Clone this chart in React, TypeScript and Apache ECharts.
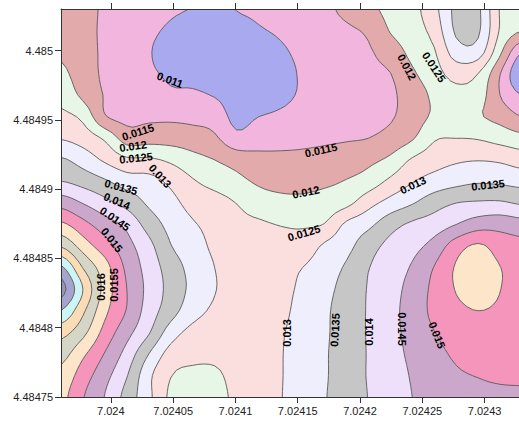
import React, { useEffect, useRef } from 'react';
import * as echarts from 'echarts';

const X_MIN = 7.02396;
const X_MAX = 7.02433;
const Y_MIN = 4.48475;
const Y_MAX = 4.48503;

const xTickValues = [7.024, 7.02405, 7.0241, 7.02415, 7.0242, 7.02425, 7.0243];
const xTickLabels = ['7.024', '7.02405', '7.0241', '7.02415', '7.0242', '7.02425', '7.0243'];
const yTickValues = [4.48475, 4.4848, 4.48485, 4.4849, 4.48495, 4.485];
const yTickLabels = ['4.48475', '4.4848', '4.48485', '4.4849', '4.48495', '4.485'];

const contourLevels = [0.0105, 0.011, 0.0115, 0.012, 0.0125, 0.013, 0.0135, 0.014, 0.0145, 0.015, 0.0155, 0.016, 0.0165, 0.017, 0.0175, 0.018];
const bandColors = ['#c6f3f3', '#a9a9f0', '#f2b5dd', '#e2aaaa', '#e7f6e7', '#fbdede', '#eeeefc', '#c6c6c6', '#eedffb', '#cba8cb', '#f595bb', '#fde5c9', '#d6d6c6', '#fbdcb6', '#cdf5f5', '#a4a4cc', '#9494c4'];

// z values on a 22 x 19 grid, rows from top (Y_MAX) to bottom (Y_MIN), columns from X_MIN to X_MAX
const zRow00 = [0.01175, 0.01162, 0.01145, 0.01134, 0.01122, 0.01106, 0.01098, 0.0108, 0.01102, 0.0111, 0.01115, 0.0112, 0.0114, 0.01161, 0.01189, 0.01212, 0.01234, 0.01285, 0.01362, 0.0136, 0.01246, 0.0122];
const zRow01 = [0.0118, 0.01163, 0.01143, 0.01128, 0.01109, 0.01093, 0.0108, 0.01072, 0.01075, 0.01095, 0.01106, 0.01118, 0.01133, 0.01143, 0.01158, 0.01203, 0.01228, 0.01268, 0.01358, 0.01358, 0.01245, 0.01202];
const zRow02 = [0.01192, 0.01167, 0.01143, 0.0113, 0.01103, 0.01085, 0.01075, 0.0107, 0.01068, 0.01075, 0.01093, 0.0111, 0.01125, 0.01138, 0.01145, 0.01173, 0.01214, 0.01245, 0.01325, 0.01325, 0.0121, 0.011];
const zRow03 = [0.01212, 0.01173, 0.01143, 0.01132, 0.01108, 0.01093, 0.01085, 0.01075, 0.0107, 0.01072, 0.01085, 0.01105, 0.0112, 0.01132, 0.01142, 0.01149, 0.01192, 0.0123, 0.01268, 0.0125, 0.01152, 0.0105];
const zRow04 = [0.01234, 0.01189, 0.01147, 0.01135, 0.01125, 0.01108, 0.01108, 0.01097, 0.01078, 0.01075, 0.0109, 0.01105, 0.01118, 0.01128, 0.01138, 0.01143, 0.01172, 0.0121, 0.01235, 0.01225, 0.0115, 0.011];
const zRow05 = [0.01262, 0.01238, 0.01154, 0.01138, 0.01141, 0.01141, 0.01137, 0.01129, 0.01085, 0.011, 0.01108, 0.01115, 0.0112, 0.01127, 0.01135, 0.01145, 0.01175, 0.01208, 0.01222, 0.01205, 0.01183, 0.0115];
const zRow06 = [0.01297, 0.01279, 0.01242, 0.01177, 0.01181, 0.0118, 0.01173, 0.01158, 0.01115, 0.0113, 0.01136, 0.0114, 0.01143, 0.01146, 0.0115, 0.01167, 0.01195, 0.01245, 0.0125, 0.01247, 0.01232, 0.01217];
const zRow07 = [0.01357, 0.01329, 0.01292, 0.0126, 0.01258, 0.01241, 0.01217, 0.012, 0.0118, 0.01164, 0.0116, 0.0116, 0.01164, 0.01173, 0.01188, 0.01211, 0.01256, 0.01279, 0.01293, 0.01298, 0.01293, 0.01278];
const zRow08 = [0.01401, 0.01382, 0.01357, 0.01326, 0.01318, 0.01289, 0.01255, 0.01233, 0.01214, 0.01193, 0.01185, 0.01185, 0.01191, 0.01203, 0.01223, 0.01261, 0.01297, 0.0132, 0.01335, 0.01345, 0.01341, 0.01333];
const zRow09 = [0.01481, 0.01448, 0.01415, 0.01383, 0.01342, 0.01315, 0.01283, 0.0127, 0.01249, 0.01224, 0.01214, 0.01212, 0.0122, 0.01236, 0.01282, 0.01318, 0.01346, 0.01379, 0.014, 0.01406, 0.01407, 0.01394];
const zRow10 = [0.01561, 0.01517, 0.01473, 0.01438, 0.01379, 0.01334, 0.01305, 0.01285, 0.01265, 0.01258, 0.01248, 0.01245, 0.01252, 0.0131, 0.01338, 0.01381, 0.01409, 0.01424, 0.0145, 0.01477, 0.01482, 0.01471];
const zRow11 = [0.01646, 0.01578, 0.01522, 0.01468, 0.01415, 0.01352, 0.0132, 0.01292, 0.0128, 0.01275, 0.0127, 0.01269, 0.01308, 0.01335, 0.01379, 0.01414, 0.01435, 0.01468, 0.01527, 0.01558, 0.01527, 0.01515];
const zRow12 = [0.01761, 0.01648, 0.01571, 0.01489, 0.0143, 0.01376, 0.01333, 0.013, 0.01283, 0.01278, 0.01282, 0.013, 0.01327, 0.01356, 0.01398, 0.01426, 0.01455, 0.01502, 0.01555, 0.0158, 0.01551, 0.01528];
const zRow13 = [0.0182, 0.017, 0.01581, 0.015, 0.01436, 0.01383, 0.01337, 0.01302, 0.01285, 0.01278, 0.01285, 0.0131, 0.01336, 0.01367, 0.01403, 0.01432, 0.01467, 0.01512, 0.01553, 0.01585, 0.01551, 0.0153];
const zRow14 = [0.01749, 0.0166, 0.01562, 0.01497, 0.01427, 0.01371, 0.0132, 0.01292, 0.01282, 0.01277, 0.01288, 0.01317, 0.01342, 0.01372, 0.01404, 0.01436, 0.0147, 0.01512, 0.01535, 0.0155, 0.0154, 0.01525];
const zRow15 = [0.01669, 0.01615, 0.01532, 0.01467, 0.01405, 0.01325, 0.01285, 0.01275, 0.0127, 0.01272, 0.01295, 0.01319, 0.01343, 0.01373, 0.01404, 0.01435, 0.01466, 0.01499, 0.01518, 0.01528, 0.01527, 0.0152];
const zRow16 = [0.0162, 0.0156, 0.01497, 0.01432, 0.0135, 0.0128, 0.01265, 0.0126, 0.01268, 0.01272, 0.01297, 0.01321, 0.01345, 0.01373, 0.01403, 0.01432, 0.0146, 0.01486, 0.01507, 0.01518, 0.01522, 0.01518];
const zRow17 = [0.01585, 0.01525, 0.01467, 0.01403, 0.01312, 0.01252, 0.01238, 0.01243, 0.01262, 0.0127, 0.01297, 0.01322, 0.01345, 0.01374, 0.01403, 0.01426, 0.01454, 0.01473, 0.01493, 0.01502, 0.01508, 0.01506];
const zRow18 = [0.01565, 0.01503, 0.01448, 0.01381, 0.01312, 0.0124, 0.01228, 0.01237, 0.01258, 0.01272, 0.01298, 0.01322, 0.01347, 0.01374, 0.01401, 0.01426, 0.0145, 0.01465, 0.01475, 0.01485, 0.0149, 0.01495];
const zGrid = [zRow00, zRow01, zRow02, zRow03, zRow04, zRow05, zRow06, zRow07, zRow08, zRow09, zRow10, zRow11, zRow12, zRow13, zRow14, zRow15, zRow16, zRow17, zRow18];

// contour labels (data coordinates) and their angle in degrees
const labelText = ['0.011', '0.0115', '0.012', '0.0125', '0.013', '0.0135', '0.014', '0.0145', '0.015', '0.016', '0.0155', '0.0115', '0.012', '0.0125', '0.013', '0.0135', '0.012', '0.0125', '0.013', '0.0135', '0.014', '0.0145', '0.015'];
const labelX = [7.0240475, 7.0240218, 7.0240178, 7.0240202, 7.0240395, 7.0240082, 7.0240049, 7.0240033, 7.0240009, 7.0239921, 7.0240025, 7.0241687, 7.0241566, 7.024155, 7.0242425, 7.0243027, 7.0242377, 7.0242594, 7.0241414, 7.0241799, 7.024207, 7.0242337, 7.0242618];
const labelY = [4.4849788, 4.4849412, 4.4849311, 4.4849225, 4.4849095, 4.4849015, 4.4848914, 4.4848785, 4.4848633, 4.4848294, 4.4848308, 4.4849282, 4.4848979, 4.4848684, 4.484903, 4.484903, 4.4849881, 4.4849881, 4.4847962, 4.4847983, 4.4847969, 4.4847991, 4.4847947];
const labelAngle = [-20, 18, 8, 6, -48, -15, -22, -35, -52, 90, 90, 12, 12, 16, 25, 6, -62, -57, 90, 87, 90, -90, -68];

type Pt = [number, number];
interface Field { W: number; H: number; xs: number[]; ys: number[]; V: number[][]; }

function catmull(p0: number, p1: number, p2: number, p3: number, t: number) {
  return 0.5 * (2 * p1 + (-p0 + p2) * t + (2 * p0 - 5 * p1 + 4 * p2 - p3) * t * t + (-p0 + 3 * p1 - 3 * p2 + p3) * t * t * t);
}
function sample1D(arr: number[], u: number) {
  const n = arr.length;
  let i = Math.floor(u);
  if (i >= n - 1) i = n - 2;
  const t = u - i;
  const g = (k: number) => arr[Math.max(0, Math.min(n - 1, k))];
  return catmull(g(i - 1), g(i), g(i + 1), g(i + 2), t);
}
function upsample(grid: number[][], f: number) {
  const ny = grid.length, nx = grid[0].length;
  const nxf = (nx - 1) * f + 1, nyf = (ny - 1) * f + 1;
  const rowsX = grid.map((row) => Array.from({ length: nxf }, (_, k) => sample1D(row, k / f)));
  const out: number[][] = [];
  for (let r = 0; r < nyf; r++) {
    const line: number[] = [];
    for (let c = 0; c < nxf; c++) {
      const col = rowsX.map((rw) => rw[c]);
      line.push(sample1D(col, r / f));
    }
    out.push(line);
  }
  return out;
}
function buildField(): Field {
  const fine = upsample(zGrid, 4);
  const nyf = fine.length, nxf = fine[0].length;
  const W = nxf + 2, H = nyf + 2;
  const padX = (X_MAX - X_MIN) * 0.05, padY = (Y_MAX - Y_MIN) * 0.05;
  const xs: number[] = [], ys: number[] = [];
  for (let i = 0; i < W; i++) {
    if (i === 0) xs.push(X_MIN - padX);
    else if (i === W - 1) xs.push(X_MAX + padX);
    else xs.push(X_MIN + ((i - 1) * (X_MAX - X_MIN)) / (nxf - 1));
  }
  for (let j = 0; j < H; j++) {
    if (j === 0) ys.push(Y_MAX + padY);
    else if (j === H - 1) ys.push(Y_MIN - padY);
    else ys.push(Y_MAX - ((j - 1) * (Y_MAX - Y_MIN)) / (nyf - 1));
  }
  const V: number[][] = [];
  for (let j = 0; j < H; j++) {
    const row: number[] = [];
    for (let i = 0; i < W; i++) {
      if (i === 0 || j === 0 || i === W - 1 || j === H - 1) row.push(-Infinity);
      else row.push(fine[j - 1][i - 1]);
    }
    V.push(row);
  }
  return { W, H, xs, ys, V };
}
function traceLevel(f: Field, L: number): Pt[][] {
  const { W, H, xs, ys, V } = f;
  const hKey = (i: number, j: number) => (j * W + i) * 2;
  const vKey = (i: number, j: number) => (j * W + i) * 2 + 1;
  const cross = (ia: number, ja: number, ib: number, jb: number): Pt => {
    const va = V[ja][ia], vb = V[jb][ib];
    if (!isFinite(va)) return [xs[ia], ys[ja]];
    if (!isFinite(vb)) return [xs[ib], ys[jb]];
    const t = (L - va) / (vb - va);
    return [xs[ia] + t * (xs[ib] - xs[ia]), ys[ja] + t * (ys[jb] - ys[ja])];
  };
  const segs = new Map<number, { end: number; pt: Pt }>();
  for (let j = 0; j < H - 1; j++) {
    for (let i = 0; i < W - 1; i++) {
      const vals = [V[j][i], V[j][i + 1], V[j + 1][i + 1], V[j + 1][i]];
      const ab = vals.map((v) => v >= L);
      if (ab[0] === ab[1] && ab[1] === ab[2] && ab[2] === ab[3]) continue;
      const ci = [i, i + 1, i + 1, i];
      const cj = [j, j, j + 1, j + 1];
      const keys = [hKey(i, j), vKey(i + 1, j), hKey(i, j + 1), vKey(i, j)];
      const S: number[] = [], E: number[] = [];
      for (let k = 0; k < 4; k++) {
        const a = ab[k], b = ab[(k + 1) % 4];
        if (a && !b) S.push(k);
        else if (!a && b) E.push(k);
      }
      const pair = (s: number, e: number) => {
        const a = s, b = (s + 1) % 4;
        segs.set(keys[s], { end: keys[e], pt: cross(ci[a], cj[a], ci[b], cj[b]) });
      };
      if (S.length === 1) pair(S[0], E[0]);
      else {
        const mean = (vals[0] + vals[1] + vals[2] + vals[3]) / 4;
        const up = isFinite(mean) && mean >= L;
        for (const s of S) pair(s, up ? (s + 1) % 4 : (s + 3) % 4);
      }
    }
  }
  const rings: Pt[][] = [];
  const used = new Set<number>();
  segs.forEach((_, k0) => {
    if (used.has(k0)) return;
    const pts: Pt[] = [];
    let k = k0;
    let guard = 0;
    while (!used.has(k) && guard++ < 200000) {
      const s = segs.get(k);
      if (!s) break;
      used.add(k);
      pts.push(s.pt);
      k = s.end;
    }
    if (pts.length > 2) rings.push(pts);
  });
  return rings;
}

function ringsToPath(rings: Pt[][], api: any) {
  let d = '';
  for (const ring of rings) {
    ring.forEach((p, idx) => {
      const c = api.coord(p);
      d += (idx === 0 ? 'M' : 'L') + c[0].toFixed(2) + ' ' + c[1].toFixed(2);
    });
    d += 'Z';
  }
  return d;
}

function findLabel(values: number[], labels: string[], v: number) {
  const idx = values.findIndex((t) => Math.abs(t - v) < 1e-9);
  return idx >= 0 ? labels[idx] : '';
}

const FONT = '"Liberation Sans", Arial, Helvetica, sans-serif';

export default function App() {
  const ref = useRef<HTMLDivElement>(null);
  useEffect(() => {
    if (!ref.current) return;
    const chart = echarts.init(ref.current, null, { renderer: 'svg' });
    const field = buildField();
    const ringsByLevel = contourLevels.map((L) => traceLevel(field, L));

    const axisLineStyle = { color: '#333', width: 1 };
    const option: any = {
      animation: false,
      grid: { left: 61, top: 9, right: -3, bottom: 26, containLabel: false, outerBoundsMode: 'none' },
      xAxis: [
        {
          type: 'value', position: 'bottom', min: X_MIN, max: X_MAX, z: 10,
          axisLine: { show: true, onZero: false, lineStyle: axisLineStyle },
          axisTick: { show: true, inside: false, length: 6, customValues: xTickValues, lineStyle: axisLineStyle },
          axisLabel: {
            customValues: xTickValues, color: '#222', fontSize: 11, fontFamily: FONT, margin: 8,
            formatter: (v: number) => findLabel(xTickValues, xTickLabels, v),
          },
          splitLine: { show: false },
        },
        {
          type: 'value', position: 'top', min: X_MIN, max: X_MAX, z: 10,
          axisLine: { show: true, onZero: false, lineStyle: axisLineStyle },
          axisTick: { show: true, inside: false, length: 6, customValues: xTickValues, lineStyle: axisLineStyle },
          axisLabel: { show: false },
          splitLine: { show: false },
        },
      ],
      yAxis: {
        type: 'value', position: 'left', min: Y_MIN, max: Y_MAX, z: 10,
        axisLine: { show: true, onZero: false, lineStyle: axisLineStyle },
        axisTick: { show: true, inside: false, length: 6, customValues: yTickValues, lineStyle: axisLineStyle },
        axisLabel: {
          customValues: yTickValues, color: '#222', fontSize: 11, fontFamily: FONT, margin: 8,
          formatter: (v: number) => findLabel(yTickValues, yTickLabels, v),
        },
        splitLine: { show: false },
      },
      series: [
        {
          type: 'custom', name: 'bands', xAxisIndex: 0, yAxisIndex: 0, clip: true, silent: true, z: 2,
          data: bandColors.map((_, i) => [X_MIN, Y_MIN, i]),
          renderItem: (params: any, api: any) => {
            const k = params.dataIndex;
            if (k === 0) {
              const p0 = api.coord([X_MIN, Y_MAX]);
              const p1 = api.coord([X_MAX, Y_MIN]);
              return { type: 'rect', shape: { x: p0[0], y: p0[1], width: p1[0] - p0[0], height: p1[1] - p0[1] }, style: { fill: bandColors[0] } };
            }
            const d = ringsToPath(ringsByLevel[k - 1], api);
            if (!d) return null;
            return { type: 'path', shape: { pathData: d }, style: { fill: bandColors[k], stroke: null } };
          },
        },
        {
          type: 'custom', name: 'lines', xAxisIndex: 0, yAxisIndex: 0, clip: true, silent: true, z: 3,
          data: contourLevels.map((_, i) => [X_MIN, Y_MIN, i]),
          renderItem: (params: any, api: any) => {
            const d = ringsToPath(ringsByLevel[params.dataIndex], api);
            if (!d) return null;
            return { type: 'path', shape: { pathData: d }, style: { fill: 'none', stroke: '#5a5a5a', lineWidth: 0.9 } };
          },
        },
        {
          type: 'custom', name: 'labels', xAxisIndex: 0, yAxisIndex: 0, clip: false, silent: true, z: 4,
          data: labelX.map((x, i) => [x, labelY[i]]),
          renderItem: (params: any, api: any) => {
            const i = params.dataIndex;
            const c = api.coord([api.value(0), api.value(1)]);
            return {
              type: 'text', x: c[0], y: c[1], rotation: (labelAngle[i] * Math.PI) / 180,
              style: { text: labelText[i], fill: '#000', fontSize: 11, fontWeight: 'bold', fontFamily: FONT, align: 'center', verticalAlign: 'middle' },
            };
          },
        },
      ],
    };
    chart.setOption(option);
    return () => chart.dispose();
  }, []);
  return <div ref={ref} style={{ position: 'fixed', left: 0, top: 0, width: 519, height: 423, background: '#fff' }} />;
}
